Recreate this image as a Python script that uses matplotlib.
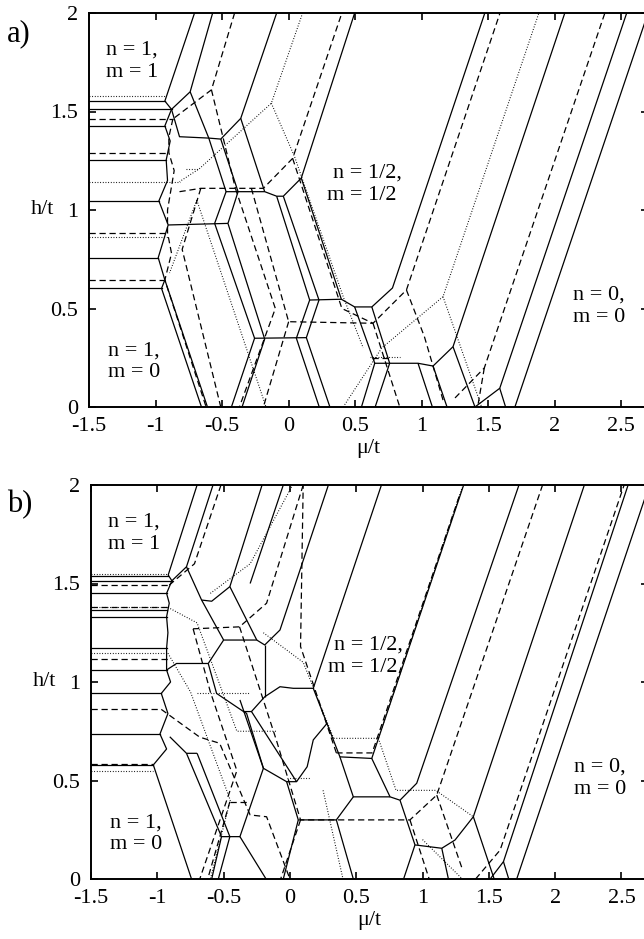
import matplotlib
matplotlib.use('Agg')
import matplotlib.pyplot as plt

plt.rcParams['font.family'] = ['Liberation Serif', 'DejaVu Serif']
plt.rcParams['axes.unicode_minus'] = False

XLIM = (-1.5, 2.7)
YLIM = (0.0, 2.0)
xticks = [-1.5, -1, -0.5, 0, 0.5, 1, 1.5, 2, 2.5]
xticklabels = ['-1.5', '-1', '-0.5', '0', '0.5', '1', '1.5', '2', '2.5']
yticks = [0, 0.5, 1, 1.5, 2]
yticklabels = ['0', '0.5', '1', '1.5', '2']

# ---------------- panel a ----------------
# horizontal plateau boundaries in the n=1 region: level h, right end mu
a_solid_h = [1.553, 1.511, 1.427, 1.254, 1.046, 0.758, 0.602]
a_solid_hx = [-0.93, -0.88, -0.93, -0.92, -0.975, -0.98, -0.955]
a_dashed_h = [1.462, 1.291, 0.885, 0.645]
a_dashed_hx = [-0.87, -0.90, -0.91, -0.93]
a_dotted_h = [1.58, 1.144, 0.865]
a_dotted_hx = [-0.92, -0.82, -0.91]

a_solid = [
    [(-0.707, 2.0), (-0.93, 1.553), (-0.88, 1.511), (-0.93, 1.427), (-0.89, 1.35), (-0.92, 1.254),
     (-0.91, 1.15), (-0.975, 1.046), (-0.905, 0.924), (-0.98, 0.758), (-0.93, 0.645), (-0.955, 0.602),
     (-0.655, 0.0)],
    [(-0.93, 0.645), (-0.61, 0.0)],
    [(-0.571, 2.0), (-0.74, 1.60), (-0.88, 1.511)],
    [(-0.74, 1.60), (-0.60, 1.365)],
    [(-0.88, 1.511), (-0.82, 1.372), (-0.60, 1.365), (-0.51, 1.36), (-0.36, 1.465), (-0.09, 2.0)],
    [(-0.60, 1.365), (-0.47, 1.093), (-0.18, 1.093), (-0.09, 1.07), (-0.04, 1.07), (0.095, 1.162), (0.496, 2.0)],
    [(-0.51, 1.36), (-0.38, 1.093)],
    [(-0.36, 1.465), (-0.18, 1.093)],
    [(-0.905, 0.924), (-0.456, 0.932)],
    [(-0.47, 1.093), (-0.556, 0.932), (-0.256, 0.349), (-0.43, 0.0)],
    [(-0.38, 1.093), (-0.456, 0.932), (-0.18, 0.345), (-0.35, 0.0)],
    [(-0.256, 0.349), (0.133, 0.352)],
    [(-0.09, 1.07), (0.158, 0.543), (0.058, 0.349), (0.23, 0.0)],
    [(-0.04, 1.07), (0.228, 0.543), (0.133, 0.352), (0.31, 0.0)],
    [(0.158, 0.543), (0.396, 0.547)],
    [(0.095, 1.162), (0.396, 0.547), (0.496, 0.508), (0.625, 0.508), (0.78, 0.604), (1.474, 2.0)],
    [(0.496, 0.508), (0.647, 0.222), (0.547, 0.0)],
    [(0.625, 0.508), (0.759, 0.222), (0.65, 0.0)],
    [(0.647, 0.222), (0.972, 0.222), (1.085, 0.208), (1.235, 0.306), (2.075, 2.0)],
    [(0.972, 0.222), (1.08, 0.0)],
    [(1.085, 0.208), (1.19, 0.0)],
    [(1.235, 0.306), (1.40, 0.0), (1.586, 0.095), (2.54, 2.0)],
    [(1.586, 0.095), (1.63, 0.0)],
    [(1.70, 0.0), (2.70, 2.0)],
]

a_dashed = [
    [(-0.406, 2.0), (-0.58, 1.61), (-0.87, 1.462)],
    [(-0.87, 1.462), (-0.90, 1.37), (-0.90, 1.291), (-0.86, 1.20), (-0.91, 1.0), (-0.91, 0.885),
     (-0.88, 0.78), (-0.93, 0.645), (-0.62, 0.0)],
    [(-0.58, 1.61), (-0.40, 1.11)],
    [(-0.82, 1.093), (-0.66, 1.11), (-0.19, 1.11), (0.03, 1.262), (0.40, 2.0)],
    [(-0.40, 1.11), (-0.10, 0.50), (-0.37, 0.0)],
    [(-0.66, 1.11), (-0.80, 0.80), (-0.51, 0.0)],
    [(-0.28, 1.11), (0.0, 0.433), (0.634, 0.425), (0.885, 0.594), (1.588, 2.0)],
    [(0.0, 0.433), (-0.19, 0.0)],
    [(0.885, 0.594), (1.02, 0.357), (1.16, 0.035)],
    [(1.25, 0.046), (1.47, 0.198), (2.376, 2.0)],
    [(1.47, 0.198), (1.42, 0.0)],
    [(0.634, 0.425), (0.835, 0.0)],
    [(0.03, 1.262), (0.40, 0.50), (0.634, 0.425)],
    [(0.63, 0.249), (0.76, 0.249)],
]

a_dotted = [
    [(0.105, 2.0), (-0.13, 1.542), (-0.67, 1.21), (-0.82, 1.144)],
    [(-0.77, 1.21), (-0.67, 1.21)],
    [(-0.13, 1.542), (0.045, 1.27), (0.41, 0.56), (0.56, 0.30)],
    [(-0.69, 1.05), (-0.17, 0.0)],
    [(-0.69, 1.05), (-0.895, 0.68)],
    [(0.41, 0.0), (0.70, 0.30), (1.16, 0.56), (1.88, 2.0)],
    [(1.16, 0.56), (1.45, 0.0)],
    [(0.61, 0.255), (0.84, 0.255)],
]

# ---------------- panel b ----------------
b_solid_h = [1.538, 1.514, 1.450, 1.365, 1.331, 1.171, 1.061, 0.942, 0.736, 0.579]
b_solid_hx = [-0.918, -0.89, -0.93, -0.93, -0.93, -0.93, -0.93, -0.97, -0.98, -1.03]
b_dashed_h = [1.492, 1.379, 1.115, 0.861, 0.582]
b_dashed_hx = [-0.91, -0.92, -0.92, -0.97, -1.03]
b_dotted_h = [1.548, 1.379, 1.146, 0.550]
b_dotted_hx = [-0.93, -0.92, -0.92, -1.03]

b_solid = [
    [(-0.70, 2.0), (-0.918, 1.543), (-0.89, 1.514), (-0.93, 1.45), (-0.91, 1.40), (-0.93, 1.331),
     (-0.92, 1.25), (-0.93, 1.171), (-0.93, 1.061), (-0.90, 1.0), (-0.97, 0.942), (-0.92, 0.84),
     (-0.98, 0.736), (-0.93, 0.66), (-1.03, 0.579), (-0.742, 0.0)],
    [(-0.58, 2.0), (-0.78, 1.585), (-0.89, 1.514)],
    [(-0.78, 1.585), (-0.666, 1.416), (-0.59, 1.41), (-0.453, 1.484), (-0.21, 2.0)],
    [(-0.666, 1.416), (-0.50, 1.213), (-0.25, 1.213), (-0.19, 1.188), (-0.075, 1.264), (0.29, 2.0)],
    [(-0.453, 1.484), (-0.25, 1.213)],
    [(-0.93, 1.061), (-0.855, 1.094), (-0.616, 1.094), (-0.50, 1.213)],
    [(-0.616, 1.094), (-0.553, 0.942), (-0.35, 0.85), (-0.29, 0.85), (-0.19, 0.925), (-0.075, 0.976),
     (0.025, 0.968), (0.176, 0.968), (0.69, 2.0)],
    [(-0.19, 1.188), (-0.19, 0.925)],
    [(0.176, 0.968), (0.377, 0.62), (0.617, 0.612), (1.31, 2.0)],
    [(0.377, 0.62), (0.478, 0.417), (0.755, 0.417)],
    [(0.617, 0.612), (0.755, 0.417), (0.83, 0.40), (0.956, 0.486), (1.727, 2.0)],
    [(0.478, 0.417), (0.35, 0.30), (0.063, 0.30)],
    [(0.83, 0.40), (0.943, 0.173), (1.145, 0.156), (1.245, 0.198), (1.383, 0.316), (2.22, 2.0)],
    [(0.35, 0.30), (0.478, 0.0)],
    [(0.063, 0.30), (-0.05, 0.0)],
    [(0.063, 0.30), (-0.025, 0.494), (-0.20, 0.562), (-0.377, 0.215), (-0.516, 0.215)],
    [(-0.78, 0.638), (-0.516, 0.215), (-0.59, 0.0)],
    [(-0.70, 0.638), (-0.453, 0.215), (-0.54, 0.0)],
    [(-0.906, 0.722), (-0.78, 0.638), (-0.70, 0.638)],
    [(-0.20, 0.562), (-0.327, 0.841), (-0.35, 0.85)],
    [(-0.025, 0.494), (0.05, 0.494), (-0.29, 0.85)],
    [(-0.377, 0.909), (-0.20, 0.562)],
    [(0.05, 0.494), (0.13, 0.57), (0.176, 0.706), (0.28, 0.79)],
    [(-0.05, 2.0), (-0.30, 1.50)],
    [(0.943, 0.173), (0.857, 0.0)],
    [(1.145, 0.156), (1.195, 0.0)],
    [(1.383, 0.316), (1.54, 0.0)],
    [(1.51, 0.0), (1.61, 0.088), (2.55, 2.0)],
    [(1.61, 0.088), (1.65, 0.0)],
    [(1.71, 0.0), (2.71, 2.0)],
    [(-0.377, 0.215), (-0.18, 0.0)],
]

b_dashed = [
    [(-0.52, 2.0), (-0.72, 1.60), (-0.91, 1.492)],
    [(0.10, 2.0), (-0.176, 1.40), (-0.38, 1.28), (-0.73, 1.27)],
    [(-0.73, 1.27), (-0.60, 0.95), (-0.40, 0.55), (-0.68, 0.0)],
    [(-0.38, 1.28), (-0.10, 0.70), (0.08, 0.30), (0.905, 0.30), (1.107, 0.426), (1.905, 2.0)],
    [(0.08, 0.30), (-0.07, 0.0)],
    [(1.107, 0.426), (1.30, 0.05)],
    [(1.40, 0.0), (1.585, 0.147), (2.52, 2.0)],
    [(0.35, 0.64), (0.62, 0.64), (1.28, 1.95)],
    [(0.35, 0.64), (0.08, 1.18), (0.10, 2.0)],
    [(0.905, 0.30), (1.05, 0.0)],
    [(-0.97, 0.861), (-0.68, 0.72), (-0.53, 0.689), (-0.30, 0.325), (-0.176, 0.316), (0.0, 0.0)],
    [(-0.453, 0.392), (-0.327, 0.392)],
    [(-0.453, 0.392), (-0.62, 0.0)],
]

b_dotted = [
    [(0.33, 0.714), (0.667, 0.714), (1.30, 1.99)],
    [(0.33, 0.714), (0.10, 1.10), (-0.20, 1.25)],
    [(-0.60, 1.45), (-0.30, 1.60), (0.02, 2.0)],
    [(-0.92, 1.379), (-0.70, 1.30), (-0.40, 0.75), (-0.10, 0.75)],
    [(0.667, 0.714), (0.80, 0.45), (1.10, 0.45), (1.383, 0.316)],
    [(-0.92, 1.146), (-0.75, 0.95), (-0.45, 0.40), (-0.60, 0.0)],
    [(-0.70, 0.944), (-0.30, 0.944)],
    [(-0.025, 0.511), (0.15, 0.511)],
    [(0.25, 0.45), (0.40, 0.0)],
    [(1.00, 0.20), (1.30, 0.0)],
]


def draw_panel(ax, solid, dashed, dotted, sh, shx, dh, dhx, th, thx):
    for pl in solid:
        xs, ys = zip(*pl)
        ax.plot(xs, ys, color='black', lw=0.9, solid_capstyle='butt')
    for pl in dashed:
        xs, ys = zip(*pl)
        ax.plot(xs, ys, color='black', lw=0.9, linestyle=(0, (5, 3)))
    for pl in dotted:
        xs, ys = zip(*pl)
        ax.plot(xs, ys, color='black', lw=0.8, linestyle=(0, (0.8, 1.6)))
    for h, x in zip(sh, shx):
        ax.plot([XLIM[0], x], [h, h], color='black', lw=0.9)
    for h, x in zip(dh, dhx):
        ax.plot([XLIM[0], x], [h, h], color='black', lw=0.9, linestyle=(0, (5, 3)))
    for h, x in zip(th, thx):
        ax.plot([XLIM[0], x], [h, h], color='black', lw=0.8, linestyle=(0, (0.8, 1.6)))
    ax.set_xlim(*XLIM)
    ax.set_ylim(*YLIM)
    ax.set_xticks(xticks)
    ax.set_xticklabels(xticklabels)
    ax.set_yticks(yticks)
    ax.set_yticklabels(yticklabels)
    ax.tick_params(direction='in', length=5, width=1.2, top=True, right=True,
                   labelsize=16, pad=7.5)
    ax.tick_params(axis='y', pad=8)
    for s in ax.spines.values():
        s.set_linewidth(1.4)
    fs = 16
    ax.text(-1.37, 1.81, 'n = 1,', fontsize=fs, va='center', ha='left')
    ax.text(-1.37, 1.70, 'm = 1', fontsize=fs, va='center', ha='left')
    ax.text(0.33, 1.19, 'n = 1/2,', fontsize=fs, va='center', ha='left')
    ax.text(0.29, 1.075, 'm = 1/2', fontsize=fs, va='center', ha='left')
    ax.text(2.14, 0.57, 'n = 0,', fontsize=fs, va='center', ha='left')
    ax.text(2.14, 0.455, 'm = 0', fontsize=fs, va='center', ha='left')
    ax.text(-1.36, 0.285, 'n = 1,', fontsize=fs, va='center', ha='left')
    ax.text(-1.36, 0.175, 'm = 0', fontsize=fs, va='center', ha='left')
    ax.text(-0.105, 0.5, 'h/t', fontsize=16, va='center', ha='left', transform=ax.transAxes)
    ax.text(0.5, -0.105, 'μ/t', fontsize=16, va='center', ha='center', transform=ax.transAxes)


fig = plt.figure(figsize=(6.44, 9.39), dpi=100)
axA = fig.add_axes([89 / 644, (939 - 407) / 939, (648 - 89) / 644, 394 / 939])
axB = fig.add_axes([91 / 644, (939 - 879) / 939, (648 - 91) / 644, 394 / 939])

draw_panel(axA, a_solid, a_dashed, a_dotted, a_solid_h, a_solid_hx, a_dashed_h, a_dashed_hx,
           a_dotted_h, a_dotted_hx)
draw_panel(axB, b_solid, b_dashed, b_dotted, b_solid_h, b_solid_hx, b_dashed_h, b_dashed_hx,
           b_dotted_h, b_dotted_hx)

fig.text(7 / 644, 1 - 34 / 939, 'a)', fontsize=22, va='center', ha='left')
fig.text(7 / 644, 1 - 505 / 939, 'b)', fontsize=22, va='center', ha='left')

fig.savefig('out.png', dpi=100)
